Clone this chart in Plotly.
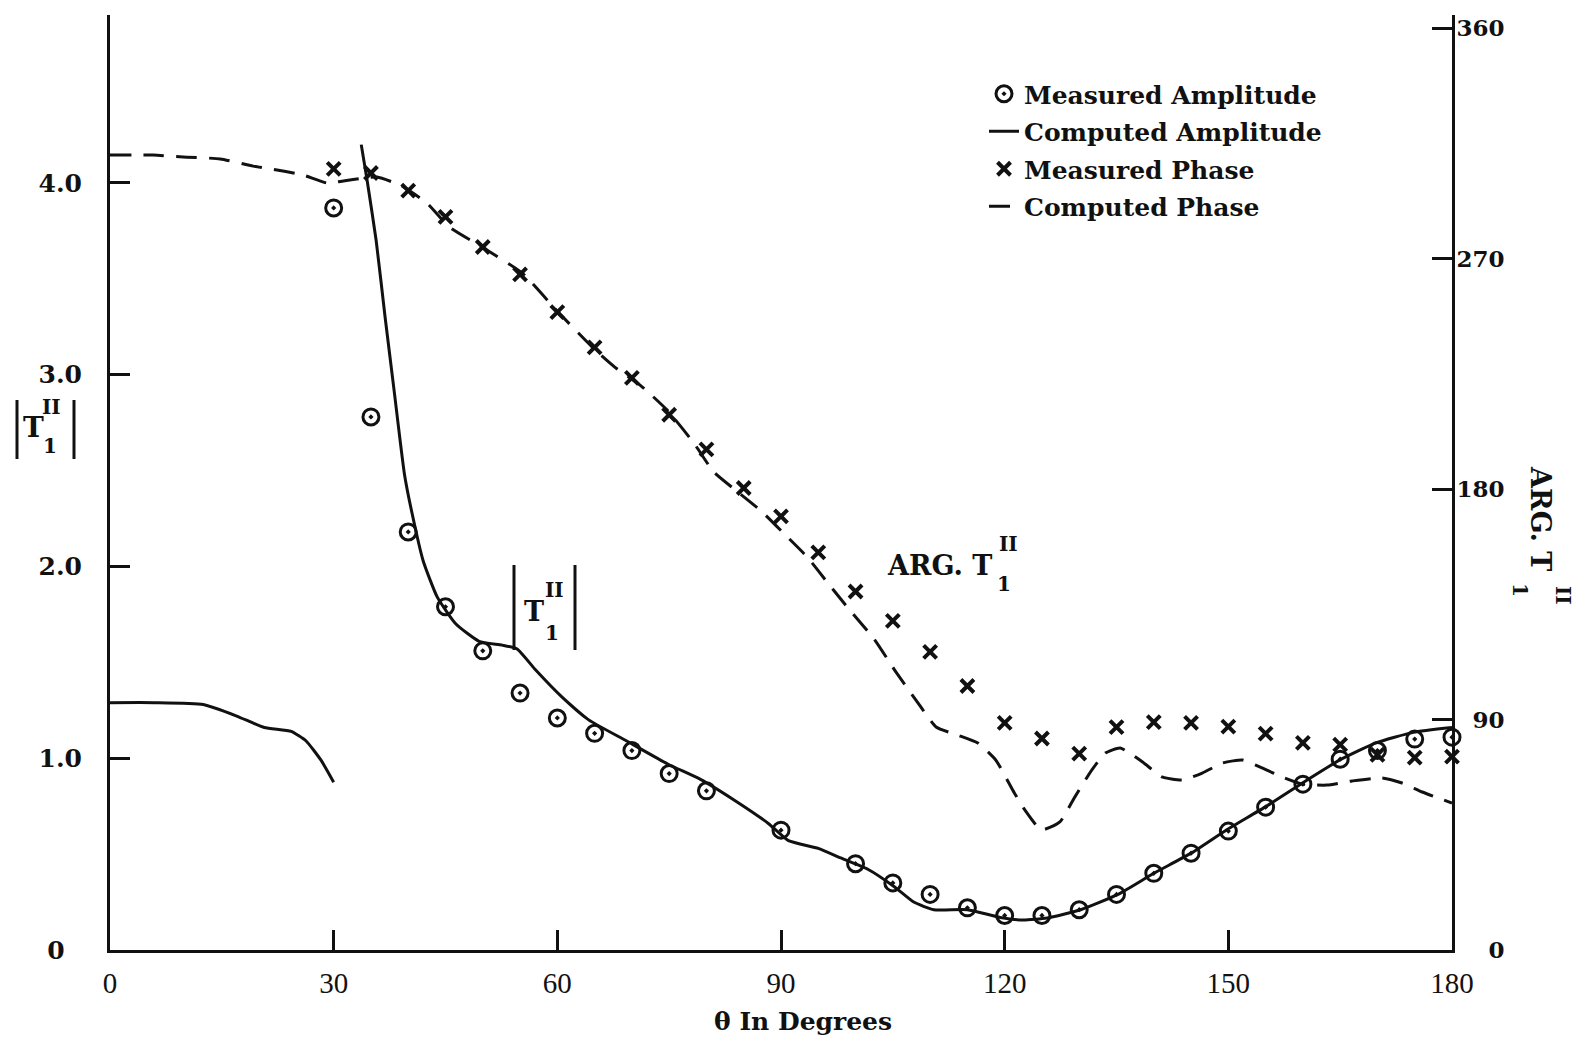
import plotly.graph_objects as go

# ---------------- data ----------------
theta_amp_meas = [30, 35, 40, 45, 50, 55, 60, 65, 70, 75, 80, 90, 100, 105, 110, 115,
                  120, 125, 130, 135, 140, 145, 150, 155, 160, 165, 170, 175, 180]
amp_meas = [3.87, 2.78, 2.18, 1.79, 1.56, 1.34, 1.21, 1.13, 1.04, 0.92, 0.83, 0.625,
            0.45, 0.35, 0.29, 0.22, 0.18, 0.18, 0.21, 0.29, 0.40, 0.505, 0.62, 0.745,
            0.865, 0.995, 1.04, 1.10, 1.11]

theta_phase_meas = [30, 35, 40, 45, 50, 55, 60, 65, 70, 75, 80, 85, 90, 95, 100, 105,
                    110, 115, 120, 125, 130, 135, 140, 145, 150, 155, 160, 165, 170,
                    175, 180]
phase_meas = [305.0, 303.4, 296.5, 286.3, 274.5, 263.8, 249.1, 235.3, 223.4, 209.0,
              195.5, 180.4, 169.3, 155.3, 140.0, 128.5, 116.4, 103.1, 88.7, 82.6,
              76.7, 87.0, 89.0, 88.7, 87.2, 84.5, 80.9, 80.2, 76.2, 75.1, 75.5]

# computed amplitude, first branch (0-30 deg)
theta_amp_calc_a = [0, 6, 12.5, 17, 20.7, 24.3, 26.3, 28.3, 30]
amp_calc_a = [1.29, 1.29, 1.28, 1.22, 1.16, 1.14, 1.09, 0.99, 0.875]
# computed amplitude, second branch
theta_amp_calc_b = [33.7, 34.5, 35.7, 36.9, 38.1, 39.5, 40.5, 42.0, 43.9, 46.4, 49.5,
                    52.6, 54.6, 57.1, 60.6, 64.2, 69.3, 74.8, 79.2, 83.8, 88.3, 91.0,
                    95.0, 98.0, 101.7, 105.2, 107.8, 110.5, 115.0, 119.4, 122.5, 125.7,
                    130.2, 135.2, 140.0, 145.0, 149.7, 154.9, 159.9, 164.9, 169.8,
                    174.8, 180]
amp_calc_b = [4.20, 4.01, 3.70, 3.30, 2.92, 2.48, 2.28, 2.03, 1.84, 1.70, 1.61, 1.59,
              1.57, 1.46, 1.32, 1.20, 1.09, 0.97, 0.89, 0.78, 0.66, 0.57, 0.53, 0.48,
              0.42, 0.33, 0.25, 0.21, 0.21, 0.17, 0.156, 0.167, 0.21, 0.29, 0.40,
              0.505, 0.625, 0.745, 0.87, 0.99, 1.08, 1.135, 1.16]

theta_phase_calc = [0, 5.8, 10.3, 14.8, 19.2, 22.4, 25.9, 29.1, 31.3, 33.9, 35.8, 38.9,
                    42.5, 45.5, 49.9, 55.3, 60.1, 65.0, 67.7, 71.1, 74.7, 78.3, 81.0,
                    84.4, 87.5, 90.6, 93.5, 96.5, 99.2, 102.5, 105.5, 108.1, 110.8,
                    113.6, 116.4, 118.8, 121.3, 122.7, 124.9, 127.4, 129.4, 131.7,
                    133.5, 135.5, 138.5, 141.1, 143.8, 146.5, 149.2, 151.9, 154.2,
                    157.2, 159.9, 163.2, 166.6, 170.6, 173.3, 176.0, 180]
phase_calc = [310.4, 310.4, 309.6, 308.9, 306.1, 304.6, 302.6, 299.5, 300.3, 301.4,
              301.8, 298.7, 291.7, 282.3, 274.5, 264.3, 249.1, 234.5, 227.6, 220.6,
              210.9, 198.0, 186.6, 178.4, 171.0, 162.0, 153.5, 142.5, 132.8, 121.4,
              108.2, 97.6, 87.1, 84.0, 80.8, 74.2, 61.3, 54.7, 46.9, 50.0, 59.7, 70.3,
              76.9, 78.9, 73.4, 67.6, 66.4, 69.1, 73.0, 74.2, 71.5, 67.6, 64.8, 64.4,
              66.0, 67.2, 65.2, 61.7, 57.4]

x_ticks = [0, 30, 60, 90, 120, 150, 180]
x_ticktext = ["0", "30", "60", "90", "120", "150", "180"]
amp_ticks = [0, 1, 2, 3, 4]
amp_ticktext = ["0\u2007", "1.0", "2.0", "3.0", "4.0"]
phase_ticks = [0, 90, 180, 270, 360]
phase_ticktext = ["\u2007\u20070", "\u200790", "180", "270", "360"]

# ---------------- figure ----------------
W, H = 1581, 1042
OFF = 8                      # page body margin of the html wrapper
SX0, SX1, SY0, SY1 = 110, 1452, 15, 950   # plot rectangle in screen pixels
L, R = SX0 - OFF, W - (SX1 - OFF)
T, B = SY0 - OFF, H - (SY1 - OFF)


def P(X, Y):
    return (X - SX0) / (SX1 - SX0), (SY1 - Y) / (SY1 - SY0)


INK = "#111111"
SERIF_B = "DejaVu Serif"

fig = go.Figure()

fig.add_trace(go.Scatter(
    x=theta_amp_meas, y=amp_meas, mode="markers", name="Measured Amplitude",
    legendgroup="a", cliponaxis=False,
    marker=dict(symbol="circle-open-dot", size=16, color=INK, line=dict(width=3, color=INK)),
))
fig.add_trace(go.Scatter(
    x=theta_amp_calc_a + [None] + theta_amp_calc_b,
    y=amp_calc_a + [None] + amp_calc_b,
    mode="lines", name="Computed Amplitude", legendgroup="b", connectgaps=False,
    cliponaxis=False,
    line=dict(color=INK, width=3, shape="spline", smoothing=0.5),
))
fig.add_trace(go.Scatter(
    x=theta_phase_meas, y=phase_meas, mode="markers", name="Measured Phase",
    legendgroup="c", yaxis="y2", cliponaxis=False,
    marker=dict(symbol="x-thin", size=13, color=INK, line=dict(width=4, color=INK)),
))
fig.add_trace(go.Scatter(
    x=theta_phase_calc, y=phase_calc, mode="lines", name="Computed Phase",
    legendgroup="d", yaxis="y2", cliponaxis=False,
    line=dict(color=INK, width=3, dash="21px,12px", shape="spline", smoothing=0.5),
))

axis_common = dict(showgrid=False, zeroline=False, showline=True, linewidth=3,
                   linecolor=INK, ticks="inside", ticklen=20, tickwidth=3,
                   tickcolor=INK)

fig.update_layout(
    width=W, height=H,
    margin=dict(l=L, r=R, t=T, b=B),
    paper_bgcolor="white", plot_bgcolor="white",
    font=dict(family=SERIF_B, color=INK),
    xaxis=dict(range=[0, 180], tickvals=x_ticks, ticktext=x_ticktext,
               tickfont=dict(family="Liberation Serif", size=29, color=INK),
               ticklabelstandoff=5, **axis_common),
    yaxis=dict(range=[0, 4.876], tickvals=amp_ticks, ticktext=amp_ticktext,
               tickfont=dict(family=SERIF_B, size=25, color=INK, weight="bold"),
               ticklabelstandoff=20, **axis_common),
    yaxis2=dict(range=[0, 365.1], tickvals=phase_ticks, ticktext=phase_ticktext,
                overlaying="y", side="right",
                tickfont=dict(family=SERIF_B, size=23, color=INK, weight="bold"),
                ticklabelstandoff=-3, **axis_common),
    legend=dict(x=P(984, 0)[0], y=P(0, 71)[1], xanchor="left", yanchor="top",
                bgcolor="rgba(0,0,0,0)", traceorder="grouped", tracegroupgap=2,
                font=dict(family=SERIF_B, size=25, color=INK, weight="bold")),
    showlegend=True,
)

ann = []


def txt(X, Y, s, size, angle=0, xanchor="center"):
    x, y = P(X, Y)
    ann.append(dict(x=x, y=y, xref="paper", yref="paper", text=s, showarrow=False,
                    xanchor=xanchor, yanchor="middle", textangle=angle,
                    font=dict(family=SERIF_B, size=size, color=INK, weight="bold")))


# x-axis title
txt(803, 1022, "\u03b8 In Degrees", 25)
# left axis title |T1^II|
txt(33, 428, "T", 28)
txt(51, 407, "II", 20)
txt(50, 446, "1", 20)
# in-plot amplitude label
txt(534, 612, "T", 27)
txt(554, 590, "II", 20)
txt(552, 633, "1", 20)
# in-plot phase label
txt(885, 565, "ARG. T", 27, xanchor="left")
txt(1008, 544, "II", 20)
txt(1004, 584, "1", 20)
# right axis title (rotated)
txt(1541, 518, "ARG. T", 27, angle=90)
txt(1563, 595, "II", 20, angle=90)
txt(1520, 590, "1", 20, angle=90)

shapes = []


def vbar(X, Y0, Y1):
    x0, y0 = P(X, Y0)
    _, y1 = P(X, Y1)
    shapes.append(dict(type="line", xref="paper", yref="paper", x0=x0, x1=x0,
                       y0=y0, y1=y1, line=dict(color=INK, width=3)))


vbar(17, 400, 459)
vbar(74, 400, 459)
vbar(514, 565, 650)
vbar(575, 565, 650)

fig.update_layout(annotations=ann, shapes=shapes)

fig.write_html("out.html")
